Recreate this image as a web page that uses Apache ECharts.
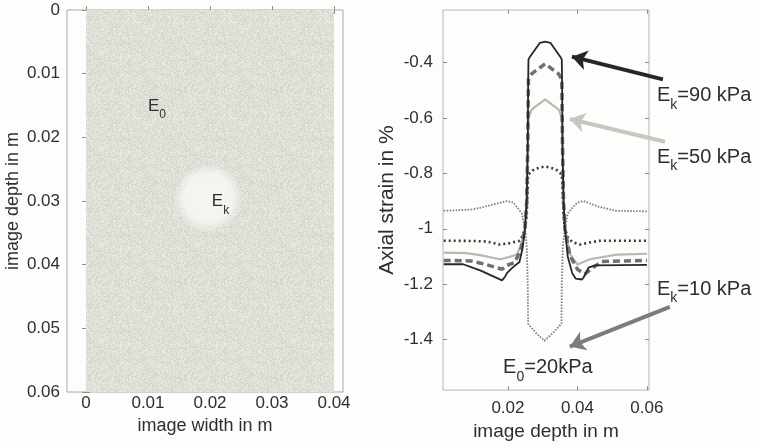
<!DOCTYPE html>
<html>
<head>
<meta charset="utf-8">
<script src="https://cdn.jsdelivr.net/npm/echarts@6/dist/echarts.min.js"></script>
<style>
  html, body { margin: 0; padding: 0; background: #fdfdfb; }
  #main { width: 759px; height: 446px; }
</style>
</head>
<body>
<div id="main"></div>
<script>
// left panel: phantom image (width x depth, metres)
var imageExtent = [[0, 0, 0.04, 0.06]];          // x0, y0, x1, y1
var inclusion = [[0.0197, 0.0295, 0.0056]];       // cx, cy, radius
var widthTicks = [0, 0.01, 0.02, 0.03, 0.04];
var depthTicks = [0, 0.01, 0.02, 0.03, 0.04, 0.05, 0.06];
var phantomLabels = [
  { pos: [0.0100, 0.0148], text: '{e|E}{s|0}' },
  { pos: [0.0203, 0.0298], text: '{e|E}{s|k}' }
];

// right panel: axial strain profiles along depth, [depth m, strain %]
var strain10 = [[0.0015,-0.935],[0.006,-0.933],[0.010,-0.930],[0.0150,-0.915],[0.0197,-0.900],[0.0215,-0.905],[0.0228,-0.925],[0.0240,-0.945],
  [0.0249,-1.000],[0.0254,-1.060],[0.0257,-1.200],[0.0258,-1.343],[0.0280,-1.375],[0.0305,-1.404],[0.0330,-1.375],[0.0354,-1.343],
  [0.0355,-1.200],[0.0358,-1.060],[0.0364,-1.000],[0.0372,-0.945],[0.0385,-0.925],[0.0400,-0.905],[0.0418,-0.900],[0.0460,-0.920],
  [0.0510,-0.935],[0.0600,-0.937]];
var strain30 = [[0.0015,-1.043],[0.0100,-1.044],[0.0140,-1.046],[0.0177,-1.057],[0.0205,-1.052],[0.0234,-1.043],[0.0244,-1.020],
  [0.0249,-1.000],[0.0254,-0.950],[0.0257,-0.850],[0.0258,-0.805],[0.0275,-0.785],[0.0307,-0.775],[0.0338,-0.785],[0.0355,-0.805],
  [0.0357,-0.850],[0.0360,-0.950],[0.0364,-1.000],[0.0372,-1.030],[0.0385,-1.048],[0.0407,-1.057],[0.0440,-1.048],[0.0465,-1.043],
  [0.0600,-1.043]];
var strain50 = [[0.0015,-1.086],[0.0080,-1.088],[0.0120,-1.095],[0.0177,-1.110],[0.0200,-1.103],[0.0226,-1.093],[0.0240,-1.050],
  [0.0249,-1.000],[0.0254,-0.900],[0.0257,-0.700],[0.0259,-0.600],[0.0268,-0.570],[0.0307,-0.533],[0.0346,-0.570],[0.0355,-0.600],
  [0.0357,-0.700],[0.0360,-0.900],[0.0364,-1.000],[0.0378,-1.090],[0.0400,-1.129],[0.0436,-1.110],[0.0514,-1.093],[0.0600,-1.090]];
var strain70 = [[0.0015,-1.114],[0.0093,-1.116],[0.0140,-1.130],[0.0183,-1.146],[0.0197,-1.132],[0.0220,-1.121],[0.0238,-1.070],
  [0.0249,-1.000],[0.0254,-0.900],[0.0257,-0.700],[0.0259,-0.460],[0.0269,-0.440],[0.0307,-0.405],[0.0345,-0.440],[0.0355,-0.460],
  [0.0357,-0.700],[0.0360,-0.900],[0.0364,-1.000],[0.0378,-1.096],[0.0400,-1.146],[0.0421,-1.164],[0.0445,-1.140],[0.0470,-1.118],
  [0.0600,-1.114]];
var strain90 = [[0.0015,-1.128],[0.0071,-1.128],[0.0120,-1.150],[0.0183,-1.186],[0.0192,-1.172],[0.0197,-1.160],[0.0213,-1.140],
  [0.0233,-1.120],[0.0242,-1.070],[0.0249,-1.000],[0.0254,-0.900],[0.0257,-0.700],[0.0258,-0.500],[0.0259,-0.390],[0.0263,-0.380],
  [0.0292,-0.329],[0.0307,-0.325],[0.0322,-0.329],[0.0351,-0.380],[0.0355,-0.390],[0.0356,-0.500],[0.0357,-0.700],[0.0360,-0.900],
  [0.0364,-1.000],[0.0372,-1.100],[0.0385,-1.160],[0.0395,-1.180],[0.0413,-1.183],[0.0418,-1.175],[0.0432,-1.140],[0.0450,-1.132],
  [0.0600,-1.130]];
var strainTicks = [-1.4, -1.2, -1, -0.8, -0.6, -0.4];
var profileDepthTicks = [0.02, 0.04, 0.06];

// annotations on the right panel (data coordinates)
var arrowTails = [[0.0646, -0.461], [0.0652, -0.686], [0.0666, -1.282]];
var arrowHeads = [[0.0384, -0.379], [0.0378, -0.604], [0.0378, -1.425]];
var arrowColors = ['#262626', '#c6c6c2', '#7c7c7c'];
var profileLabels = [
  { pos: [0.0629, -0.5125], text: '{e|E}{s|k}{e|=90 kPa}' },
  { pos: [0.0629, -0.7357], text: '{e|E}{s|k}{e|=50 kPa}' },
  { pos: [0.0629, -1.2107], text: '{e|E}{s|k}{e|=10 kPa}' },
  { pos: [0.0186, -1.4946], text: '{e|E}{s|0}{e|=20kPa}' }
];

var FONT = 'Liberation Sans, Arial, sans-serif';
var TXT = '#2e2e2e';
var app = echarts.init(document.getElementById('main'));

// speckle texture for the simulated ultrasound image
function speckle() {
  var c = document.createElement('canvas');
  c.width = c.height = 96;
  var ctx = c.getContext('2d');
  var img = ctx.createImageData(96, 96);
  for (var i = 0; i < 96 * 96; i++) {
    var h = Math.sin(i * 12.9898 + 78.233) * 43758.5453;
    h = h - Math.floor(h);
    var d = Math.round((h - 0.5) * 26);
    img.data[i * 4] = 223 + d;
    img.data[i * 4 + 1] = 223 + d;
    img.data[i * 4 + 2] = 216 + d;
    img.data[i * 4 + 3] = 255;
  }
  ctx.putImageData(img, 0, 0);
  return c;
}

function fmt(d) {
  return function (v) { return String(+(+v).toFixed(d)); };
}

function valAxis(grid, pos, min, max, ticks, opts) {
  var a = {
    type: 'value', gridIndex: grid, position: pos, min: min, max: max,
    splitLine: { show: false },
    axisLine: { show: false },
    axisTick: { show: true, inside: true, length: 4, customValues: ticks, lineStyle: { color: '#8d8d8d' } },
    axisLabel: { show: false, customValues: ticks }
  };
  for (var k in opts) a[k] = opts[k];
  return a;
}

function richText(big, small) {
  return {
    e: { fontSize: big, lineHeight: big + 6, verticalAlign: 'top', color: TXT, fontFamily: FONT },
    s: { fontSize: small, lineHeight: small, verticalAlign: 'bottom', color: TXT, fontFamily: FONT }
  };
}

var option = {
  backgroundColor: '#fdfdfb',
  animation: false,
  grid: [
    { left: 67, top: 10, width: 276, height: 382, show: true, borderColor: '#a8a8a8', borderWidth: 1, backgroundColor: 'transparent' },
    { left: 443, top: 10, width: 206, height: 384, show: true, borderColor: '#b5b5b5', borderWidth: 1, backgroundColor: 'transparent' }
  ],
  xAxis: [
    valAxis(0, 'bottom', -0.00306, 0.04145, widthTicks, {
      name: 'image width in m', nameLocation: 'middle', nameGap: 22,
      nameTextStyle: { fontSize: 18, color: TXT, fontFamily: FONT },
      axisLabel: { show: true, customValues: widthTicks, margin: 3, fontSize: 17, color: TXT, fontFamily: FONT, formatter: fmt(2) }
    }),
    valAxis(1, 'bottom', 0.0013, 0.0606, profileDepthTicks, {
      name: 'image depth in m', nameLocation: 'middle', nameGap: 29,
      nameTextStyle: { fontSize: 19, color: TXT, fontFamily: FONT },
      axisLabel: { show: true, customValues: profileDepthTicks, margin: 10, fontSize: 17, color: TXT, fontFamily: FONT, formatter: fmt(2) }
    }),
    valAxis(0, 'top', -0.00306, 0.04145, widthTicks, {}),
    valAxis(1, 'top', 0.0013, 0.0606, profileDepthTicks, {})
  ],
  yAxis: [
    valAxis(0, 'left', 0, 0.06, depthTicks, {
      inverse: true,
      name: 'image depth in m', nameLocation: 'middle', nameGap: 45, nameRotate: 90,
      nameTextStyle: { fontSize: 18, color: TXT, fontFamily: FONT },
      axisLabel: { show: true, customValues: depthTicks, margin: 7, fontSize: 17, color: TXT, fontFamily: FONT, formatter: fmt(2) }
    }),
    valAxis(1, 'left', -1.582, -0.2107, strainTicks, {
      name: 'Axial strain in %', nameLocation: 'middle', nameGap: 45, nameRotate: 90,
      nameTextStyle: { fontSize: 21, color: TXT, fontFamily: FONT },
      axisLabel: { show: true, customValues: strainTicks, margin: 10, fontSize: 17, color: TXT, fontFamily: FONT, formatter: fmt(1) }
    }),
    valAxis(0, 'right', 0, 0.06, depthTicks, { inverse: true }),
    valAxis(1, 'right', -1.582, -0.2107, strainTicks, {})
  ],
  series: [
    {
      type: 'custom', xAxisIndex: 0, yAxisIndex: 0, data: imageExtent, z: 1,
      renderItem: function (params, api) {
        var p0 = api.coord([api.value(0), api.value(1)]);
        var p1 = api.coord([api.value(2), api.value(3)]);
        return {
          type: 'rect',
          shape: { x: p0[0], y: p0[1], width: p1[0] - p0[0], height: p1[1] - p0[1] },
          style: { fill: { image: speckle(), repeat: 'repeat' } }
        };
      }
    },
    {
      type: 'custom', xAxisIndex: 0, yAxisIndex: 0, data: inclusion, z: 2,
      renderItem: function (params, api) {
        var c = api.coord([api.value(0), api.value(1)]);
        var r = api.size([api.value(2), 0])[0];
        return {
          type: 'circle',
          shape: { cx: c[0], cy: c[1], r: r },
          style: {
            fill: new echarts.graphic.RadialGradient(0.5, 0.5, 0.5, [
              { offset: 0, color: 'rgba(246,246,242,1)' },
              { offset: 0.7, color: 'rgba(244,244,240,0.95)' },
              { offset: 1, color: 'rgba(244,244,240,0)' }
            ])
          }
        };
      }
    },
    {
      type: 'scatter', xAxisIndex: 0, yAxisIndex: 0, symbolSize: 0, z: 5,
      itemStyle: { opacity: 1 },
      data: phantomLabels.map(function (d) {
        return { value: d.pos, label: { formatter: d.text } };
      }),
      label: { show: true, position: [0, 0], offset: [0, 5], align: 'left', verticalAlign: 'middle', rich: richText(17, 12) }
    },
    {
      name: 'Ek=10 kPa', type: 'line', xAxisIndex: 1, yAxisIndex: 1, data: strain10, showSymbol: false, z: 3,
      lineStyle: { color: '#7c7c7c', width: 1.8, type: [1.5, 1.5] }
    },
    {
      name: 'Ek=50 kPa', type: 'line', xAxisIndex: 1, yAxisIndex: 1, data: strain50, showSymbol: false, z: 3,
      lineStyle: { color: '#b8b8b3', width: 2.2 }
    },
    {
      name: 'Ek=30 kPa', type: 'line', xAxisIndex: 1, yAxisIndex: 1, data: strain30, showSymbol: false, z: 3,
      lineStyle: { color: '#3a3a3a', width: 2.6, type: [2, 3] }
    },
    {
      name: 'Ek=70 kPa', type: 'line', xAxisIndex: 1, yAxisIndex: 1, data: strain70, showSymbol: false, z: 3,
      lineStyle: { color: '#707070', width: 3.5, type: [7, 4] }
    },
    {
      name: 'Ek=90 kPa', type: 'line', xAxisIndex: 1, yAxisIndex: 1, data: strain90, showSymbol: false, z: 4,
      lineStyle: { color: '#262626', width: 1.8 }
    },
    {
      type: 'lines', coordinateSystem: 'cartesian2d', xAxisIndex: 1, yAxisIndex: 1, clip: false, z: 6,
      symbol: ['none', 'arrow'], symbolSize: [0, 15],
      data: arrowTails.map(function (t, i) {
        return { coords: [t, arrowHeads[i]], lineStyle: { color: arrowColors[i] } };
      }),
      lineStyle: { width: 4, opacity: 1 }
    },
    {
      type: 'scatter', xAxisIndex: 1, yAxisIndex: 1, symbolSize: 0, clip: false, z: 7,
      itemStyle: { opacity: 1 },
      data: profileLabels.map(function (d) {
        return { value: d.pos, label: { formatter: d.text } };
      }),
      label: { show: true, position: [0, 0], offset: [0, 5], align: 'left', verticalAlign: 'middle', rich: richText(20, 14) }
    }
  ]
};

app.setOption(option);
</script>
</body>
</html>
